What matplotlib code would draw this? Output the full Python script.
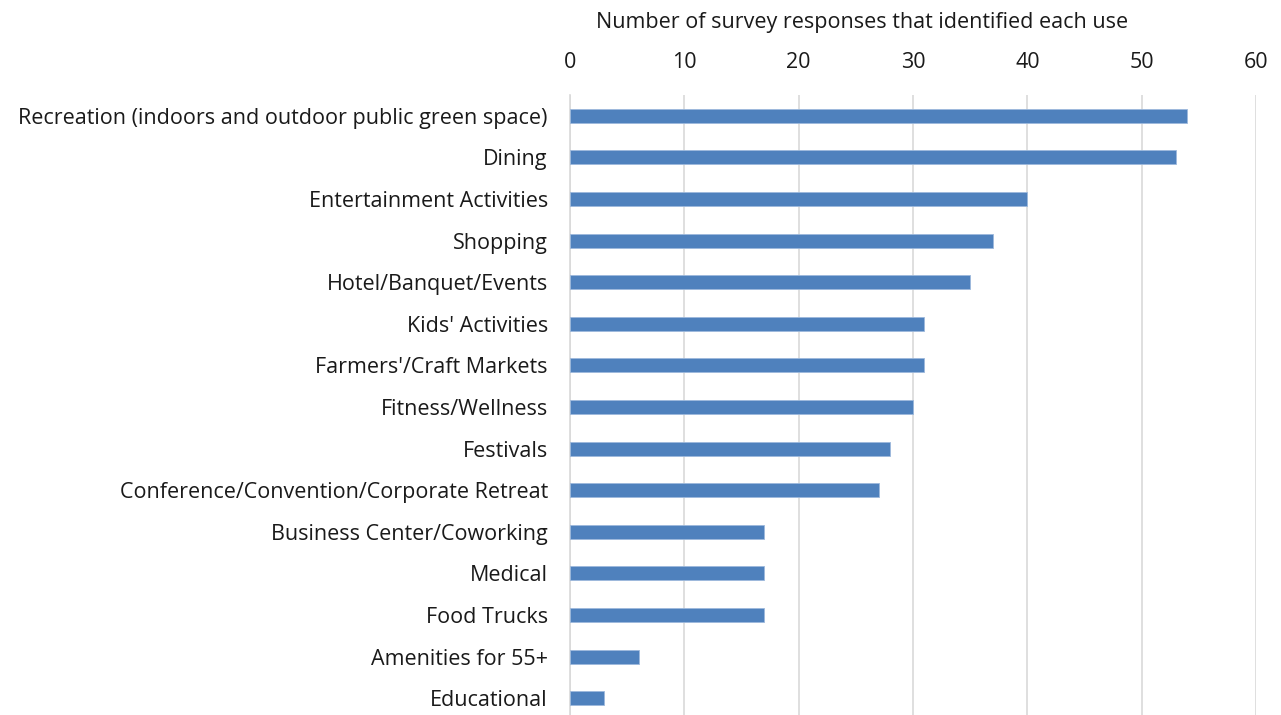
import matplotlib.pyplot as plt
import numpy as np

plt.rcParams['font.family'] = ['Open Sans', 'DejaVu Sans']

uses = ["Recreation (indoors and outdoor public green space)", "Dining",
        "Entertainment Activities", "Shopping", "Hotel/Banquet/Events",
        "Kids' Activities", "Farmers'/Craft Markets", "Fitness/Wellness",
        "Festivals", "Conference/Convention/Corporate Retreat",
        "Business Center/Coworking", "Medical", "Food Trucks",
        "Amenities for 55+", "Educational"]
counts = [54, 53, 40, 37, 35, 31, 31, 30, 28, 27, 17, 17, 17, 6, 3]
xticks = [0, 10, 20, 30, 40, 50, 60]

fig = plt.figure(figsize=(12.81, 7.15), dpi=100)
ax = fig.add_axes([570/1281, -4/715, 686/1281, 624/715])

y = np.arange(len(uses))
ax.barh(y, counts, height=0.34, color='#4F81BD', edgecolor='#9DB9DC', linewidth=0.6, zorder=3)
ax.set_ylim(len(uses) - 0.5, -0.5)
ax.set_xlim(0, 60)
ax.set_xticks(xticks)
ax.set_yticks(y)
ax.set_yticklabels(uses)

ax.xaxis.tick_top()
ax.xaxis.set_label_position('top')
ax.set_xlabel("Number of survey responses that identified each use", fontsize=15.5,
              labelpad=17, color='#1a1a1a', x=0.426)
ax.tick_params(axis='x', length=0, labelsize=15.5, pad=16, colors='#1a1a1a')
ax.tick_params(axis='y', length=0, labelsize=15.5, pad=16, colors='#1a1a1a')

ax.grid(axis='x', color='#D9D9D9', linewidth=1.2, zorder=0)
for s in ['top', 'right', 'bottom']:
    ax.spines[s].set_visible(False)
ax.spines['left'].set_color('#D9D9D9')
ax.spines['left'].set_linewidth(1.2)

fig.savefig('out.png', dpi=100)
